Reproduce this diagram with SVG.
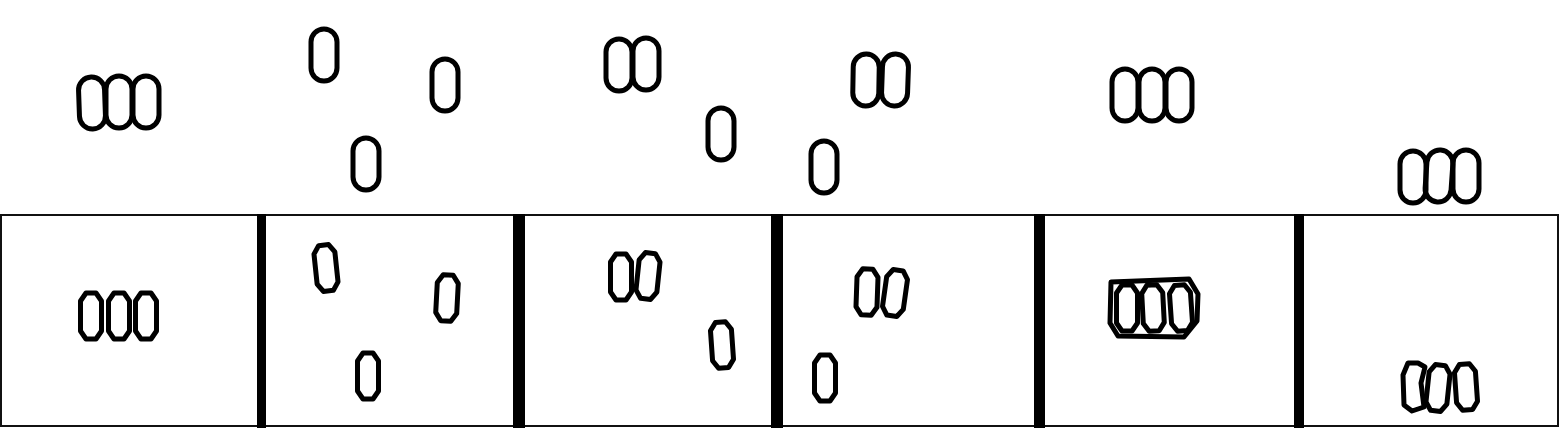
<svg xmlns="http://www.w3.org/2000/svg" xmlns:xlink="http://www.w3.org/1999/xlink" width="1560" height="428" viewBox="0 0 1560 428">
<style>
.s{fill:none;stroke:#000;stroke-width:5;stroke-linejoin:round}
.frame{fill:none;stroke:#111;stroke-width:2}
.div{fill:#000}
</style>
<defs>
<rect id="ov" class="s" x="-13" y="-26" width="26" height="52" rx="13"/>
<polygon id="oct" class="s" points="-5,-23 5,-23 10.5,-15 10.5,15 5,23 -5,23 -10.5,15 -10.5,-15"/>
</defs>
<rect width="1560" height="428" fill="#fff"/>
<g id="panels">
<rect class="frame" x="1" y="215" width="1557" height="211"/>
<rect class="div" x="257" y="214" width="9" height="214"/>
<rect class="div" x="513" y="214" width="12" height="214"/>
<rect class="div" x="771" y="214" width="12" height="214"/>
<rect class="div" x="1034" y="214" width="11" height="214"/>
<rect class="div" x="1294" y="214" width="10" height="214"/>
</g>
<g id="top1">
<use xlink:href="#ov" transform="translate(92,103) rotate(-2)"/>
<use xlink:href="#ov" transform="translate(119,102)"/>
<use xlink:href="#ov" transform="translate(146,102)"/>
</g>
<g id="top2">
<use xlink:href="#ov" transform="translate(324,55)"/>
<use xlink:href="#ov" transform="translate(445,85)"/>
<use xlink:href="#ov" transform="translate(366,164)"/>
</g>
<g id="top3">
<use xlink:href="#ov" transform="translate(619,65)"/>
<use xlink:href="#ov" transform="translate(646,64)"/>
<use xlink:href="#ov" transform="translate(721,134)"/>
</g>
<g id="top4">
<use xlink:href="#ov" transform="translate(866,80) rotate(1)"/>
<use xlink:href="#ov" transform="translate(895,80) rotate(2)"/>
<use xlink:href="#ov" transform="translate(824,167)"/>
</g>
<g id="top5">
<use xlink:href="#ov" transform="translate(1125,95)"/>
<use xlink:href="#ov" transform="translate(1152,95)"/>
<use xlink:href="#ov" transform="translate(1179,95)"/>
</g>
<g id="top6">
<use xlink:href="#ov" transform="translate(1413,177)"/>
<use xlink:href="#ov" transform="translate(1439,176) rotate(4)"/>
<use xlink:href="#ov" transform="translate(1466,176)"/>
</g>
<g id="bot1">
<use xlink:href="#oct" transform="translate(91,316)"/>
<use xlink:href="#oct" transform="translate(119,316)"/>
<use xlink:href="#oct" transform="translate(146,316)"/>
</g>
<g id="bot2">
<use xlink:href="#oct" transform="translate(326,268) rotate(-6)"/>
<use xlink:href="#oct" transform="translate(447,298) rotate(3)"/>
<use xlink:href="#oct" transform="translate(368,376)"/>
</g>
<g id="bot3">
<use xlink:href="#oct" transform="translate(621,277)"/>
<use xlink:href="#oct" transform="translate(648,276) rotate(6)"/>
<use xlink:href="#oct" transform="translate(722,345) rotate(-4)"/>
</g>
<g id="bot4">
<use xlink:href="#oct" transform="translate(867,292) rotate(2)"/>
<use xlink:href="#oct" transform="translate(895,293) rotate(8)"/>
<use xlink:href="#oct" transform="translate(825,378)"/>
</g>
<g id="bot5">
<polygon class="s" points="1111,282 1189,279 1198,294 1197,321 1184,337 1118,336 1110,323"/>
<use xlink:href="#oct" transform="translate(1127,308)"/>
<use xlink:href="#oct" transform="translate(1153,308) rotate(-3)"/>
<use xlink:href="#oct" transform="translate(1181,308) rotate(-4)"/>
</g>
<g id="bot6">
<polygon class="s" points="1408,363 1418,363 1425,367 1421,383 1424,407 1412,411 1404,405 1403,375"/>
<use xlink:href="#oct" transform="translate(1438,388) rotate(6)"/>
<use xlink:href="#oct" transform="translate(1466,387) rotate(-4)"/>
</g>
</svg>
